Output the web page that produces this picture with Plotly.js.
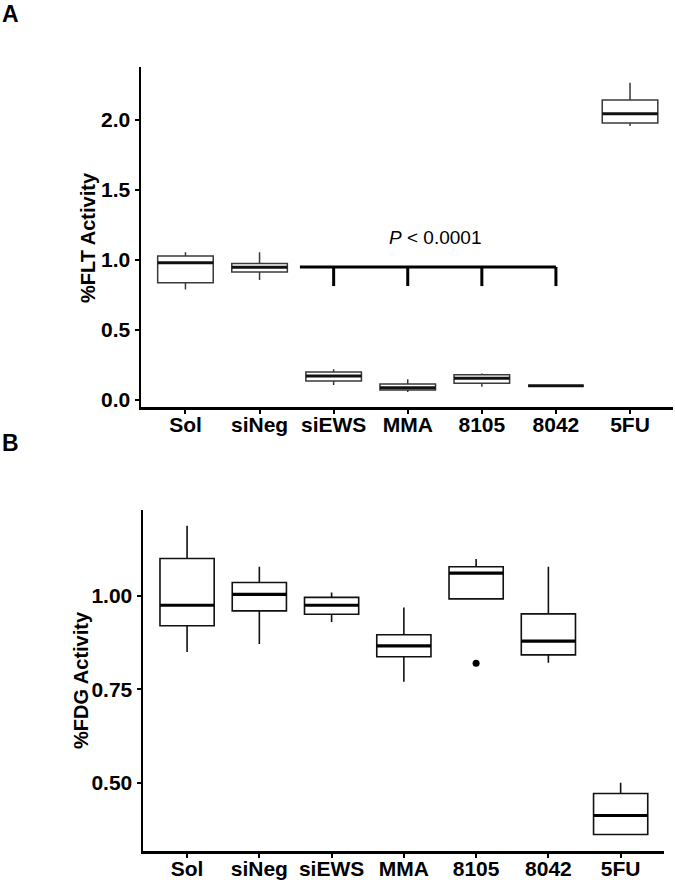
<!DOCTYPE html>
<html>
<head>
<meta charset="utf-8">
<script src="https://cdn.plot.ly/plotly-3.0.1.min.js"></script>
<style>html,body{margin:0;padding:0;background:#fff;}#chart{width:675px;height:880px;}</style>
</head>
<body>
<div id="chart"></div>
<script>
// Categories
const categories = ['Sol', 'siNeg', 'siEWS', 'MMA', '8105', '8042', '5FU'];

// Panel A: %FLT Activity
const fltLower  = [0.790, 0.857, 0.107, 0.057, 0.095, 0.102, 1.957];
const fltQ1     = [0.838, 0.914, 0.136, 0.071, 0.119, 0.102, 1.979];
const fltMedian = [0.981, 0.948, 0.171, 0.088, 0.155, 0.102, 2.045];
const fltQ3     = [1.029, 0.976, 0.200, 0.114, 0.181, 0.102, 2.143];
const fltUpper  = [1.055, 1.055, 0.219, 0.148, 0.190, 0.102, 2.267];
const fltTicks  = [0, 0.5, 1.0, 1.5, 2.0];
const fltTickText = ['0.0', '0.5', '1.0', '1.5', '2.0'];

// Panel B: %FDG Activity
const fdgLower  = [0.850, 0.871, 0.930, 0.770, 0.992, 0.821, 0.361];
const fdgQ1     = [0.920, 0.960, 0.951, 0.837, 0.992, 0.842, 0.361];
const fdgMedian = [0.975, 1.004, 0.975, 0.866, 1.061, 0.879, 0.412];
const fdgQ3     = [1.100, 1.036, 0.996, 0.896, 1.078, 0.952, 0.471];
const fdgUpper  = [1.188, 1.078, 1.009, 0.969, 1.099, 1.078, 0.500];
const fdgOutlierCat = ['8105'];
const fdgOutlierVal = [0.820];
const fdgTicks  = [0.50, 0.75, 1.00];
const fdgTickText = ['0.50', '0.75', '1.00'];

// Significance bracket (panel A)
const bracketFromCat = 1.545;          // category position where bar starts
const bracketCats = ['siEWS', 'MMA', '8105', '8042'];
const bracketTop = 0.95;
const bracketBottom = 0.814;
const pLabel = '<i>P</i> &lt; 0.0001';

const idx = categories.map((c, i) => i);
const BW = 0.75;
const FONT = 'Liberation Sans, Arial, Helvetica, sans-serif';

function medianSegments(med) {
  const xs = [], ys = [];
  med.forEach((m, i) => { xs.push(i - BW / 2, i + BW / 2, null); ys.push(m, m, null); });
  return {xs, ys};
}

const mA = medianSegments(fltMedian);
const mB = medianSegments(fdgMedian);

const bx = [bracketFromCat, categories.indexOf(bracketCats[bracketCats.length - 1]), null];
const by = [bracketTop, bracketTop, null];
bracketCats.forEach(c => { const i = categories.indexOf(c); bx.push(i, i, null); by.push(bracketTop, bracketBottom, null); });

const traces = [
  {type: 'box', x: idx, q1: fltQ1, median: fltMedian, q3: fltQ3, lowerfence: fltLower, upperfence: fltUpper,
   width: BW, whiskerwidth: 0, fillcolor: 'white', line: {color: '#3a3a3a', width: 1.5},
   boxpoints: false, xaxis: 'x', yaxis: 'y', hoverinfo: 'skip', showlegend: false},
  {type: 'scatter', mode: 'lines', x: mA.xs, y: mA.ys, line: {color: '#111', width: 3},
   xaxis: 'x', yaxis: 'y', hoverinfo: 'skip', showlegend: false},
  {type: 'scatter', mode: 'lines', x: bx, y: by, line: {color: '#000', width: 3},
   xaxis: 'x', yaxis: 'y', hoverinfo: 'skip', showlegend: false},
  {type: 'box', x: idx, q1: fdgQ1, median: fdgMedian, q3: fdgQ3, lowerfence: fdgLower, upperfence: fdgUpper,
   width: BW, whiskerwidth: 0, fillcolor: 'white', line: {color: '#111', width: 1.6},
   boxpoints: false, xaxis: 'x2', yaxis: 'y2', hoverinfo: 'skip', showlegend: false},
  {type: 'scatter', mode: 'lines', x: mB.xs, y: mB.ys, line: {color: '#000', width: 3.2},
   xaxis: 'x2', yaxis: 'y2', hoverinfo: 'skip', showlegend: false},
  {type: 'scatter', mode: 'markers', x: fdgOutlierCat.map(c => categories.indexOf(c)), y: fdgOutlierVal,
   marker: {color: '#000', size: 7}, xaxis: 'x2', yaxis: 'y2', hoverinfo: 'skip', showlegend: false}
];

const tickFont = {family: FONT, size: 21, color: '#000', weight: 'bold'};
const axisCommon = {showline: true, linecolor: '#000', linewidth: 2.5, ticks: 'outside', ticklen: 4,
  tickwidth: 2, tickcolor: '#000', showgrid: false, zeroline: false, tickfont: tickFont, fixedrange: true};

const layout = {
  width: 675, height: 880,
  margin: {l: 0, r: 0, t: 0, b: 0},
  paper_bgcolor: '#fff', plot_bgcolor: '#fff',
  showlegend: false,
  xaxis: Object.assign({}, axisCommon, {domain: [141 / 675, 673 / 675], range: [-0.6, 6.58],
    tickmode: 'array', tickvals: idx, ticktext: categories, anchor: 'y', ticklabelstandoff: -7}),
  yaxis: Object.assign({}, axisCommon, {domain: [1 - 407 / 880, 1 - 67 / 880], range: [-0.05, 2.379],
    tickmode: 'array', tickvals: fltTicks, ticktext: fltTickText, anchor: 'x'}),
  xaxis2: Object.assign({}, axisCommon, {domain: [143 / 675, 664 / 675], range: [-0.61, 6.6],
    tickmode: 'array', tickvals: idx, ticktext: categories, anchor: 'y2', ticklabelstandoff: -7}),
  yaxis2: Object.assign({}, axisCommon, {domain: [1 - 851 / 880, 1 - 510 / 880], range: [0.317, 1.230],
    tickmode: 'array', tickvals: fdgTicks, ticktext: fdgTickText, anchor: 'x2'}),
  annotations: [
    {text: 'A', xref: 'paper', yref: 'paper', x: 11 / 675, y: 1 - 14 / 880, showarrow: false,
     xanchor: 'center', yanchor: 'middle', font: {family: FONT, size: 23, color: '#000', weight: 'bold'}},
    {text: 'B', xref: 'paper', yref: 'paper', x: 11 / 675, y: 1 - 443 / 880, showarrow: false,
     xanchor: 'center', yanchor: 'middle', font: {family: FONT, size: 23, color: '#000', weight: 'bold'}},
    {text: '%FLT Activity', xref: 'paper', yref: 'paper', x: 88 / 675, y: 1 - 237 / 880, showarrow: false,
     textangle: -90, xanchor: 'center', yanchor: 'middle', font: {family: FONT, size: 20, color: '#000', weight: 'bold'}},
    {text: '%FDG Activity', xref: 'paper', yref: 'paper', x: 81 / 675, y: 1 - 680 / 880, showarrow: false,
     textangle: -90, xanchor: 'center', yanchor: 'middle', font: {family: FONT, size: 20, color: '#000', weight: 'bold'}},
    {text: pLabel, xref: 'x', yref: 'y', x: 3.37, y: 1.16, showarrow: false,
     xanchor: 'center', yanchor: 'middle', font: {family: FONT, size: 19, color: '#000'}}
  ]
};

Plotly.newPlot('chart', traces, layout, {staticPlot: true, displayModeBar: false});
</script>
</body>
</html>
